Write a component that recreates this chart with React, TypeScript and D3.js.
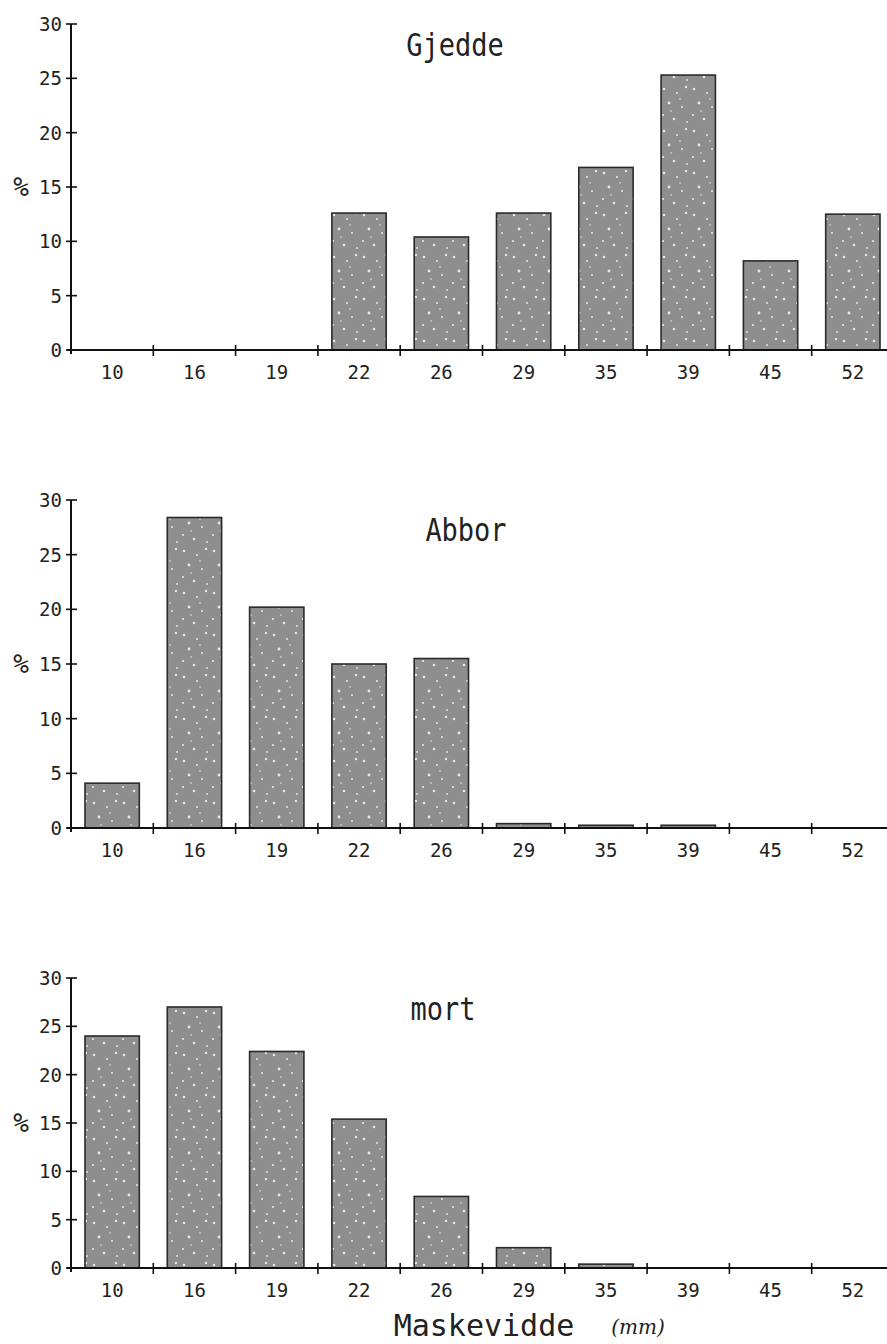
import React from "react";
import * as d3 from "d3";

const categories = ["10", "16", "19", "22", "26", "29", "35", "39", "45", "52"];
const gjedde = [0, 0, 0, 12.6, 10.4, 12.6, 16.8, 25.3, 8.2, 12.5];
const abbor = [4.1, 28.4, 20.2, 15.0, 15.5, 0.4, 0.25, 0.25, 0, 0];
const mort = [24.0, 27.0, 22.4, 15.4, 7.4, 2.1, 0.4, 0, 0, 0];
const yTicks = [0, 5, 10, 15, 20, 25, 30];
const titles = ["Gjedde", "Abbor", "mort"];

const panels = [
  { values: gjedde, top: 24, bottom: 350, titleX: 455, titleY: 56 },
  { values: abbor, top: 500, bottom: 828, titleX: 466, titleY: 541 },
  { values: mort, top: 978, bottom: 1268, titleX: 443, titleY: 1020 },
];

const AX = 71;
const FONT = "'DejaVu Sans Mono', 'Liberation Mono', monospace";

const dots: [number, number, number][] = [
  [4, 5, 1.3], [17, 9, 1], [26, 3, 1.2], [9, 19, 1.4], [22, 23, 1], [3, 31, 1.1],
  [14, 35, 1.3], [27, 38, 0.9], [11, 27, 0.8], [20, 15, 0.8],
];

function Panel({ p, title }: { p: typeof panels[0]; title: string }) {
  const x = d3.scaleBand<string>().domain(categories).range([AX, AX + 823]).paddingInner(0.34).paddingOuter(0.17);
  const y = d3.scaleLinear().domain([0, 30]).range([p.bottom, p.top]);
  const step = x.step();
  return (
    <g>
      <text x={p.titleX} y={p.titleY} textAnchor="middle" fontFamily={FONT} fontSize={27} fill="#222" transform={`translate(${p.titleX},${p.titleY}) scale(1,1.15) translate(${-p.titleX},${-p.titleY})`}>{title}</text>
      {p.values.map((v, i) => {
        if (v <= 0) return null;
        const h = p.bottom - y(v);
        return (
          <rect key={i} x={x(categories[i])!} y={y(v)} width={x.bandwidth()} height={Math.max(h, 1.5)}
            fill="url(#speckle)" stroke="#2a2a2a" strokeWidth={1.6} />
        );
      })}
      <line x1={AX} x2={AX} y1={p.top} y2={p.bottom + 4} stroke="#111" strokeWidth={2} />
      <line x1={AX - 4} x2={887} y1={p.bottom} y2={p.bottom} stroke="#111" strokeWidth={2} />
      {yTicks.map((t) => (
        <g key={t}>
          <line x1={AX - 5} x2={AX + 6} y1={y(t)} y2={y(t)} stroke="#111" strokeWidth={1.6} />
          <text x={AX - 9} y={y(t) + 7} textAnchor="end" fontFamily={FONT} fontSize={19} fill="#222">{t}</text>
        </g>
      ))}
      <text x={21} y={y(15) + 9} textAnchor="middle" fontFamily={FONT} fontSize={26} fill="#222">%</text>
      {categories.map((c, i) => (
        <g key={c}>
          {i > 0 && (
            <line x1={AX + step * i} x2={AX + step * i} y1={p.bottom - 5} y2={p.bottom + 6} stroke="#111" strokeWidth={1.6} />
          )}
          <text x={x(c)! + x.bandwidth() / 2} y={p.bottom + 29} textAnchor="middle" fontFamily={FONT} fontSize={19} fill="#222">{c}</text>
        </g>
      ))}
    </g>
  );
}

export default function App() {
  return (
    <svg width={887} height={1344} style={{ position: "absolute", left: 0, top: 0, background: "#fff" }}>
      <defs>
        <pattern id="speckle" patternUnits="userSpaceOnUse" width={30} height={42}>
          <rect width={30} height={42} fill="#8e8e8e" />
          {dots.map((d, i) => (
            <circle key={i} cx={d[0]} cy={d[1]} r={d[2]} fill="#e8e8e8" />
          ))}
        </pattern>
      </defs>
      {panels.map((p, i) => (
        <Panel key={i} p={p} title={titles[i]} />
      ))}
      <text x={484} y={1336} textAnchor="middle" fontFamily={FONT} fontSize={30} fill="#222">Maskevidde</text>
      <text x={638} y={1334} textAnchor="middle" fontFamily="'DejaVu Serif', serif" fontStyle="italic" fontSize={20} fill="#222">(mm)</text>
    </svg>
  );
}
